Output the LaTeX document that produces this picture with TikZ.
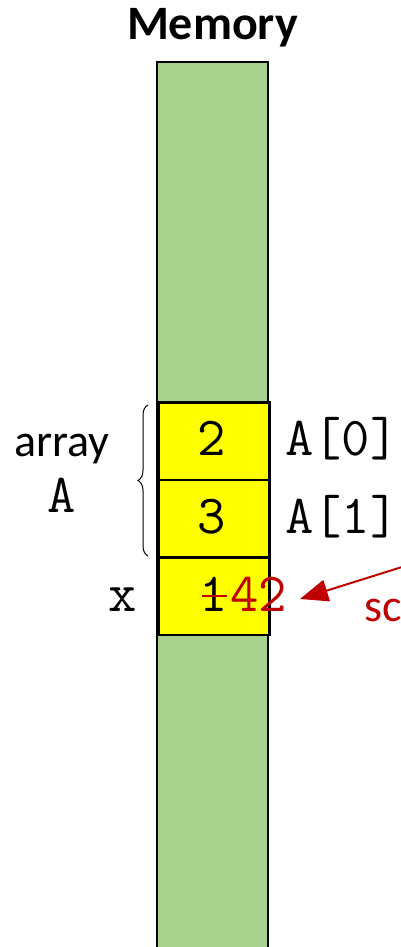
\documentclass[tikz,border=0pt]{standalone}
\usepackage{fontspec}
\setmainfont{Carlito}
\usetikzlibrary{decorations.pathreplacing,arrows.meta}
\definecolor{memgreen}{HTML}{A9D18E}
\definecolor{cellyellow}{HTML}{FFFF00}
\definecolor{darkred}{HTML}{C00000}
\begin{document}
\begin{tikzpicture}[x=1pt,y=-1pt,
  cell/.style={draw=black,line width=2.5pt,fill=cellyellow,minimum width=111pt,minimum height=77.5pt,inner sep=0pt,anchor=north west},
  mono/.style={font=\ttfamily\fontsize{55}{55}\selectfont,inner sep=0pt},
  lbl/.style={font=\fontsize{46}{46}\selectfont,inner sep=0pt}]
\useasboundingbox (0,0) rectangle (400,947);
% memory column
\draw[line width=2.5pt,fill=memgreen] (157,960) -- (157,62) -- (268,62) -- (268,960);
\node[font=\bfseries\fontsize{48}{48}\selectfont,inner sep=0pt,anchor=base] (title) at (212.5,40) {Memory};
% cells
\node[cell] (c0) at (157,401) {};
\node[cell] (c1) at (157,478.5) {};
\node[cell] (c2) at (157,556) {};
\node[mono,anchor=base] (v0) at (212,455) {2};
\node[mono,anchor=base] (v1) at (212,533) {3};
\node[mono,anchor=base] (v2a) at (214,611) {1};
\draw[darkred,line width=1.8pt] (202,596) -- (227,596);
\node[mono,anchor=base west,text=darkred] (v2b) at (230,611) {42};
% labels
\node[mono,anchor=base west] (a0) at (285,455) {A[0]};
\node[mono,anchor=base west] (a1) at (285,533) {A[1]};
\node[mono,anchor=base] (x) at (123,611) {x};
\node[lbl,anchor=base] (arr) at (62,456) {array};
\node[mono,anchor=base] (arrA) at (62,512) {A};
% brace
\coordinate (bb) at (148,556);
\coordinate (bt) at (148,405);
\draw[line width=1pt,decorate,decoration={brace,amplitude=10pt}] (bb) -- (bt);
% arrow
\coordinate (arrS) at (402,567);
\coordinate (arrT) at (300,599);
\draw[darkred,line width=2pt,-{Triangle[length=28pt,width=22pt]}] (arrS) -- (arrT);
\node[lbl,text=darkred,anchor=base west] (sc) at (364,621) {sc};
\end{tikzpicture}
\end{document}
